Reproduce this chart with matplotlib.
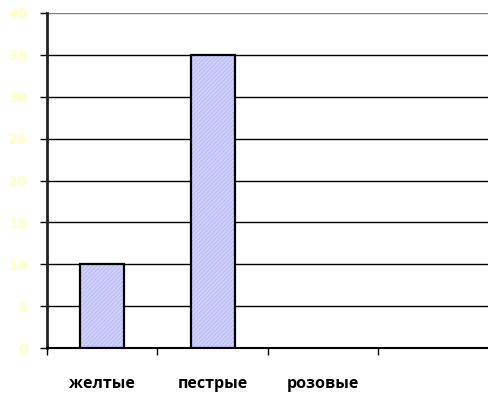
import matplotlib
matplotlib.use("Agg")
import matplotlib.pyplot as plt
import numpy as np

categories = ["желтые", "пестрые", "розовые", ""]
values = [10, 35, 0, 0]
yticks = [0, 5, 10, 15, 20, 25, 30, 35, 40]

plt.rcParams['hatch.linewidth'] = 0.6

fig = plt.figure(figsize=(4.89, 4.01), dpi=100)
ax = fig.add_axes([47/489, 53/401, 1 - 47/489, (348-13)/401])

x = np.arange(len(categories))
# hatched fill
ax.bar(x[:2], values[:2], width=0.4, color='#d0d0ff', edgecolor='#b8b8f0',
       linewidth=0, hatch='////////', zorder=3)
# black outline
ax.bar(x[:2], values[:2], width=0.4, fill=False, edgecolor='black',
       linewidth=1.6, zorder=4)

ax.set_xlim(-0.5, len(categories) - 0.5)
ax.set_ylim(0, 40)
ax.set_yticks(yticks)
ax.set_yticklabels([str(t) for t in yticks], color='#ffffc0', fontweight='bold',
                   fontsize=10, family=['DejaVu Sans Condensed', 'DejaVu Sans'])
for t in yticks:
    ax.axhline(t, color='black' if t < 40 else '#808080', linewidth=1.0, zorder=1)

ax.set_xticks(np.arange(len(categories) + 1) - 0.5)
ax.set_xticklabels([])
ax.tick_params(axis='x', length=5, width=1, color='black', direction='out')
ax.tick_params(axis='y', length=5, width=1, color='black', direction='out', pad=9)

for xi, lab in zip(x, categories):
    ax.text(xi, -4.3, lab, ha='center', va='center', fontsize=11.5,
            fontweight='bold', family=['Open Sans', 'DejaVu Sans'])

ax.spines['top'].set_visible(False)
ax.spines['right'].set_visible(False)
ax.spines['left'].set_linewidth(2)
ax.spines['left'].set_color('#222222')
ax.spines['bottom'].set_linewidth(1.5)

fig.savefig("out.png", dpi=100)
